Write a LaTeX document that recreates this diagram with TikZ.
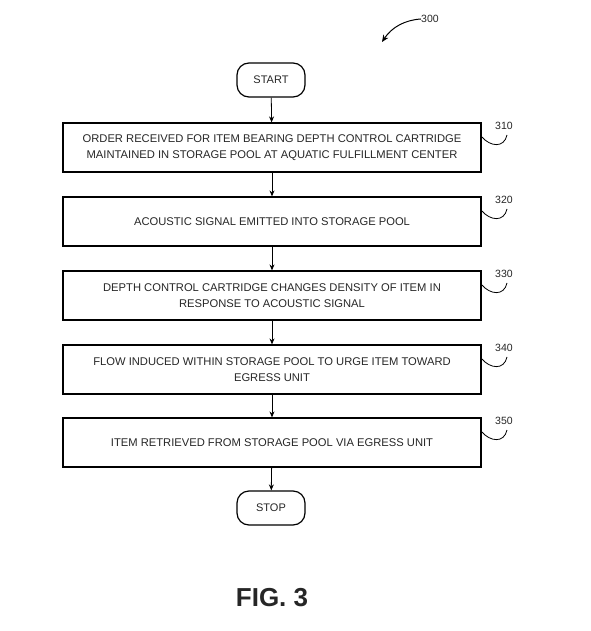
\documentclass[tikz,border=0pt]{standalone}
\usepackage{fontspec}
\setmainfont{Liberation Sans}
\usetikzlibrary{arrows.meta}
\begin{document}
\begin{tikzpicture}[x=1pt,y=-1pt,
  box/.style={draw, line width=1.2pt, minimum width=418pt, minimum height=49pt, align=center, inner sep=0pt, text=black!85, font=\fontsize{11.2}{16}\selectfont},
  term/.style={draw, line width=1.2pt, rounded corners=12pt, minimum width=68pt, minimum height=34pt, inner sep=0pt, text=black!85, font=\fontsize{11}{12}\selectfont},
  flow/.style={-{Stealth[length=6pt,width=5pt]}, line width=0.8pt},
  lbl/.style={text=black!85, font=\fontsize{10.5}{12}\selectfont, inner sep=0pt},
  squig/.style={line width=0.8pt}]
\useasboundingbox (0,0) rectangle (590,631);
\node[term] (start) at (271,80) {START};
\node[box] (b310) at (272,147.5) {ORDER RECEIVED FOR ITEM BEARING DEPTH CONTROL CARTRIDGE\\MAINTAINED IN STORAGE POOL AT AQUATIC FULFILLMENT CENTER};
\node[box] (b320) at (272,221.5) {ACOUSTIC SIGNAL EMITTED INTO STORAGE POOL};
\node[box] (b330) at (272,295.5) {DEPTH CONTROL CARTRIDGE CHANGES DENSITY OF ITEM IN\\RESPONSE TO ACOUSTIC SIGNAL};
\node[box] (b340) at (272,369.5) {FLOW INDUCED WITHIN STORAGE POOL TO URGE ITEM TOWARD\\EGRESS UNIT};
\node[box] (b350) at (272,442.5) {ITEM RETRIEVED FROM STORAGE POOL VIA EGRESS UNIT};
\node[term] (stop) at (271,508) {STOP};
\draw[flow] (start) -- (b310);
\draw[flow] (b310) -- (b320);
\draw[flow] (b320) -- (b330);
\draw[flow] (b330) -- (b340);
\draw[flow] (b340) -- (b350);
\draw[flow] (b350) -- (stop);
\foreach \n/\y in {310/147.5,320/221.5,330/295.5,340/369.5,350/442.5}{
  \node[lbl] (l\n) at (504,\y-22) {\n};
  \coordinate (s\n) at (482,\y-10.5);
  \coordinate (e\n) at (507,\y-12.5);
  \draw[squig] (s\n) .. controls (490,\y-1) and (504,\y+1) .. (e\n);
}
\node[lbl, anchor=west] (l300) at (421,19) {300};
\coordinate (a300) at (382,42);
\draw[-{Stealth[length=7pt,width=6pt]}, line width=1pt] (l300.west) .. controls (405,20) and (392,27) .. (a300);
\node[font=\fontsize{26}{30}\selectfont\bfseries, text=black!85] (fig) at (272,598) {FIG. 3};
\end{tikzpicture}
\end{document}
